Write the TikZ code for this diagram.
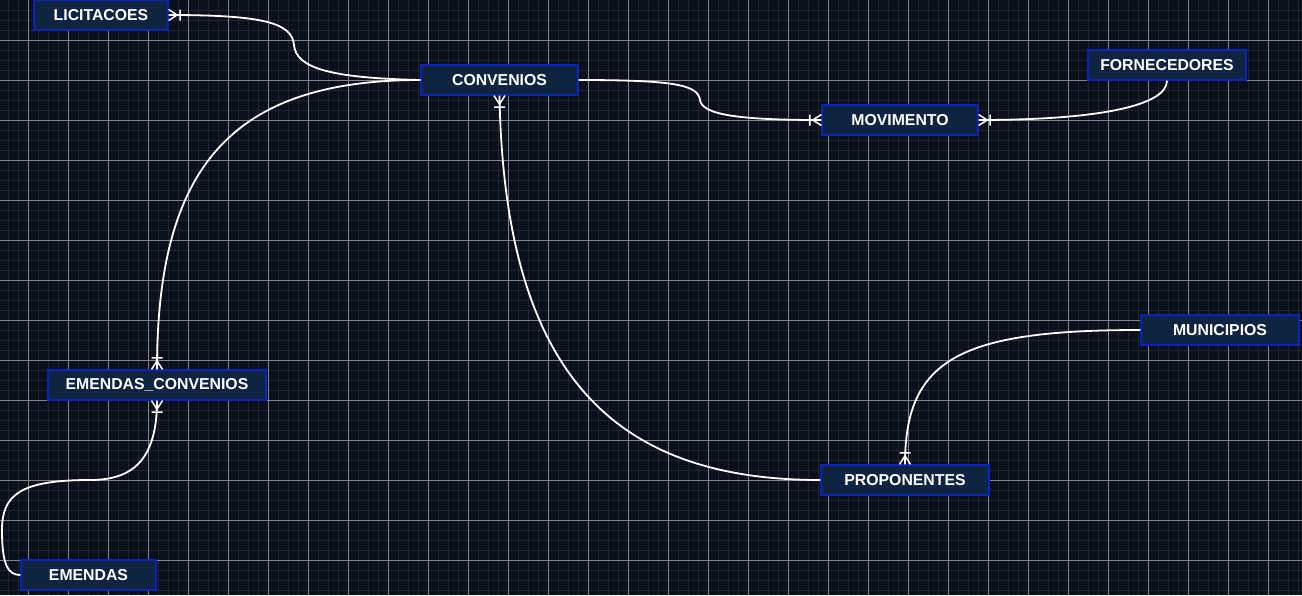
\documentclass[tikz,border=0pt]{standalone}
\usepackage{fontspec}
\setmainfont{Liberation Sans}
\definecolor{bg}{HTML}{0A0F19}
\definecolor{minorg}{HTML}{1F2531}
\definecolor{majorg}{HTML}{80858E}
\definecolor{nodefill}{HTML}{0F2440}
\definecolor{nodeborder}{HTML}{0A22C0}
\tikzset{
  minorgrid/.style={draw=minorg, line width=0.9pt},
  majorgrid/.style={draw=majorg, line width=0.9pt},
  box/.style={draw=nodeborder, fill=nodefill, line width=1.3pt, text=white,
    font=\fontsize{15.8}{18}\selectfont\bfseries, minimum height=30pt, inner sep=0pt},
  rel/.style={draw=white, line width=1.8pt},
  crow/.pic={\draw[white, line width=1.5pt] (0,5.5) -- (8.5,0) -- (0,-5.5) (11.5,5.5) -- (11.5,-5.5);}
}
\begin{document}
\begin{tikzpicture}[x=1pt,y=-1pt]
\fill[bg] (0,0) rectangle (1302,595);
\useasboundingbox (0,0) rectangle (1302,595);
\foreach \x in {8,18,...,1298} \draw[minorgrid] (\x,0) -- (\x,595);
\foreach \y in {10,20,...,590} \draw[minorgrid] (0,\y) -- (1302,\y);
\foreach \x in {28,68,...,1288} \draw[majorgrid] (\x,0) -- (\x,595);
\foreach \y in {40,80,...,560} \draw[majorgrid] (0,\y) -- (1302,\y);

\node[box, minimum width=134pt] (lic) at (101,15) {LICITACOES};
\node[box, minimum width=157pt] (conv) at (499.5,80) {CONVENIOS};
\node[box, minimum width=156pt] (mov) at (900,120) {MOVIMENTO};
\node[box, minimum width=158pt] (forn) at (1167,65) {FORNECEDORES};
\node[box, minimum width=218pt] (ec) at (157,385) {EMENDAS\_CONVENIOS};
\node[box, minimum width=135pt] (em) at (88.5,575) {EMENDAS};
\node[box, minimum width=168pt] (prop) at (905,480) {PROPONENTES};
\node[box, minimum width=158pt] (muni) at (1220,330) {MUNICIPIOS};

% LICITACOES - CONVENIOS
\draw[rel] (lic.east) .. controls (260,15) and (292,22) .. (294,45)
  .. controls (296,68) and (330,78) .. (conv.west);
% CONVENIOS - MOVIMENTO
\draw[rel] (conv.east) .. controls (675,80) and (698,85) .. (700,100)
  .. controls (702,115) and (740,120) .. (mov.west);
% FORNECEDORES - MOVIMENTO
\draw[rel] (forn.south) .. controls +(0,25) and +(120,0) .. (mov.east);
% CONVENIOS - EMENDAS_CONVENIOS
\draw[rel] (conv.west) .. controls +(-191,0) and +(0,-200) .. (ec.north);
% CONVENIOS - PROPONENTES
\draw[rel] (conv.south) .. controls +(5,285) and +(-201,0) .. (prop.west);
% MUNICIPIOS - PROPONENTES
\draw[rel] (muni.west) .. controls +(-181,0) and +(0,-105) .. (prop.north);
% EMENDAS_CONVENIOS - EMENDAS
\draw[rel] (ec.south) .. controls +(0,62) and (130,480) .. (90,480)
  .. controls (20,480) and (2,495) .. (2,530)
  .. controls (2,565) and (8,575) .. (em.west);

\pic at (lic.east) {crow};
\pic[rotate=-90] at (conv.south) {crow};
\pic[rotate=180] at (mov.west) {crow};
\pic at (mov.east) {crow};
\pic[rotate=90] at (ec.north) {crow};
\pic[rotate=-90] at (ec.south) {crow};
\pic[rotate=90] at (prop.north) {crow};
\end{tikzpicture}
\end{document}
